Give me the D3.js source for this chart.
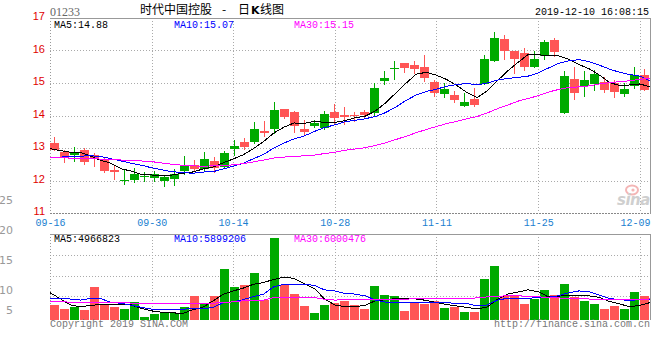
<!DOCTYPE html>
<html><head><meta charset="utf-8">
<script src="https://cdn.jsdelivr.net/npm/d3@7/dist/d3.min.js"></script>
<style>body{margin:0;background:#fff}svg{display:block}</style>
</head><body>
<svg id="c" width="660" height="360"></svg>
<script>
// ---------- DATA ----------
const dates = ["09-16","09-17","09-18","09-19","09-20","09-23","09-24","09-25","09-26","09-27",
  "09-30","10-02","10-03","10-04","10-08","10-09","10-10","10-11","10-14","10-15",
  "10-16","10-17","10-18","10-21","10-22","10-23","10-24","10-25","10-28","10-29",
  "10-30","10-31","11-01","11-04","11-05","11-06","11-07","11-08","11-11","11-12",
  "11-13","11-14","11-15","11-18","11-19","11-20","11-21","11-22","11-25","11-26",
  "11-27","11-28","11-29","12-02","12-03","12-04","12-05","12-06","12-09","12-10"];
const openP = [13.16,12.87,12.77,12.95,12.78,12.65,12.33,12.00,12.03,12.11,
  12.07,11.99,12.06,12.30,12.48,12.35,12.60,12.43,12.98,13.18,
  13.19,13.53,13.58,14.20,14.12,13.59,13.68,13.62,14.11,14.02,
  14.03,14.11,14.07,15.06,15.42,15.62,15.55,15.49,15.03,14.66,
  14.63,14.30,14.51,14.97,15.69,16.35,15.98,15.92,15.50,15.84,
  16.32,14.09,15.12,14.92,14.98,15.03,15.00,14.67,14.92,15.25];
const highP = [13.33,12.95,13.02,13.00,12.85,12.68,12.46,12.32,12.39,12.25,
  12.28,12.18,12.36,12.74,12.64,12.88,12.73,12.91,13.25,13.32,
  13.81,13.84,14.43,14.20,14.15,13.86,13.86,14.14,14.35,14.25,
  14.12,14.17,14.99,15.37,15.68,15.62,15.68,15.86,15.09,15.01,
  14.75,14.70,14.85,15.86,16.57,16.48,15.98,16.08,15.98,16.32,
  16.38,15.37,15.49,15.37,15.40,15.18,15.09,15.00,15.49,15.43];
const lowP = [12.95,12.56,12.61,12.51,12.46,12.25,12.06,11.90,11.95,11.97,
  11.97,11.84,11.85,12.21,12.28,12.33,12.27,12.40,12.78,12.96,
  13.14,13.37,13.47,13.91,13.50,13.43,13.64,13.60,13.76,13.74,
  13.84,13.94,14.02,14.97,15.11,15.34,15.30,15.06,14.60,14.58,
  14.41,14.30,14.29,14.97,15.69,15.73,15.32,15.40,15.50,15.73,
  15.83,14.09,14.52,14.61,14.79,14.73,14.58,14.61,14.86,14.79];
const closeP = [12.95,12.68,12.88,12.56,12.66,12.30,12.25,12.03,12.21,12.13,
  12.21,12.10,12.21,12.44,12.36,12.66,12.38,12.84,13.06,13.03,
  13.58,13.47,14.17,13.96,13.69,13.50,13.76,14.05,13.93,13.95,
  13.97,14.02,14.85,15.15,15.45,15.47,15.44,15.16,14.68,14.82,
  14.48,14.42,14.33,15.74,16.38,15.98,15.74,15.50,15.74,16.26,
  15.95,15.22,14.70,15.09,15.28,14.79,14.73,14.82,15.24,14.79];
// volume, millions of shares
const volume = [4.29,3.14,3.63,2.86,9.43,4.49,3.63,3.14,5.23,0.86,
  1.71,2.09,2.09,3.63,6.86,4.86,6.86,14.57,9.43,10.00,
  13.43,5.71,23.43,10.00,7.43,4.00,2.00,4.29,4.86,5.43,
  4.29,3.14,9.71,7.14,6.86,2.57,5.14,4.57,5.43,3.43,
  3.71,2.29,2.29,11.71,15.43,6.86,6.86,4.57,6.00,8.57,
  7.14,10.29,6.57,5.43,4.57,3.14,4.00,3.14,8.00,6.86];
const ma5 = [12.98,12.92,12.87,12.86,12.75,12.62,12.53,12.36,12.29,12.18,
  12.17,12.14,12.17,12.22,12.26,12.35,12.41,12.54,12.66,12.79,
  12.98,13.20,13.46,13.64,13.77,13.76,13.82,13.79,13.79,13.84,
  13.93,13.98,14.14,14.39,14.69,14.99,15.27,15.33,15.24,15.11,
  14.92,14.71,14.55,14.76,15.07,15.37,15.63,15.87,15.87,15.84,
  15.84,15.73,15.57,15.44,15.25,15.02,14.92,14.94,14.97,14.88];
const ma10 = [12.70,12.72,12.74,12.75,12.76,12.74,12.67,12.60,12.53,12.47,
  12.39,12.33,12.27,12.25,12.22,12.26,12.27,12.35,12.44,12.53,
  12.67,12.80,13.00,13.15,13.28,13.37,13.51,13.63,13.71,13.81,
  13.85,13.90,13.97,14.09,14.26,14.46,14.63,14.74,14.81,14.90,
  14.95,14.99,14.94,15.00,15.09,15.14,15.17,15.21,15.31,15.46,
  15.60,15.68,15.72,15.66,15.55,15.43,15.33,15.26,15.21,15.07];
const ma30 = [12.71,12.70,12.69,12.68,12.67,12.66,12.65,12.63,12.62,12.60,
  12.58,12.54,12.50,12.47,12.45,12.44,12.45,12.46,12.48,12.52,
  12.57,12.63,12.69,12.72,12.74,12.76,12.78,12.83,12.87,12.93,
  12.97,13.01,13.08,13.16,13.26,13.36,13.47,13.57,13.66,13.75,
  13.82,13.90,13.97,14.08,14.21,14.32,14.44,14.52,14.61,14.72,
  14.80,14.86,14.88,14.91,14.97,15.01,15.04,15.07,15.11,15.15];
const vma5 = [7.8,6.1,4.3,3.8,4.2,4.4,4.5,4.5,4.3,3.3,
  2.6,2.2,2.1,1.8,2.9,3.6,5.4,7.3,8.3,9.1,
  10.2,10.7,11.6,12.2,11.9,10.4,9.0,6.0,4.3,3.8,
  3.8,4.2,5.5,5.8,6.1,6.0,6.0,5.6,5.0,4.4,
  4.0,3.6,3.2,3.7,5.9,7.4,8.0,8.6,8.1,6.6,
  6.8,7.1,7.1,6.9,6.5,5.3,4.6,3.8,4.2,4.97];
const vma10 = [6.2,6.2,6.0,5.7,6.2,6.1,5.0,4.8,4.2,3.6,
  3.1,3.05,3.0,3.1,3.2,3.3,3.5,4.9,5.2,5.8,
  6.7,7.4,9.5,10.2,10.2,10.2,9.9,8.6,8.3,7.6,
  7.4,6.9,5.7,5.1,5.0,5.0,5.1,5.1,5.1,4.9,
  4.8,4.7,4.0,4.3,5.7,6.2,6.2,6.2,6.4,6.5,
  6.9,7.8,8.3,8.1,7.1,6.2,5.8,5.6,5.8,5.9];
const vma30 = [5.4,5.4,5.0,4.9,4.9,4.9,4.9,4.9,4.85,4.8,
  4.8,4.8,4.8,4.6,4.6,4.75,4.8,4.95,5.2,5.5,
  5.5,5.7,6.4,6.4,6.4,6.5,6.4,5.9,5.7,5.75,
  5.75,5.8,5.9,5.9,5.9,5.9,6.2,6.2,6.2,6.2,
  6.2,6.2,6.3,6.6,6.8,6.9,6.9,6.8,6.6,6.5,
  6.3,6.2,6.1,6.0,5.9,5.9,5.9,5.9,5.95,6.0];
const priceTicks = [11,12,13,14,15,16,17];
const dateTickIdx = [0,10,18,28,38,48,58];
const volTickLabels = [25,20,15,10,5];
const volLegend = ["MA5:4966823","MA10:5899206","MA30:6000476"];
const maNames = ["MA5","MA10","MA30"];
const maColors = ["#000000","#0000ff","#ff00ff"];

// ---------- LAYOUT ----------
const svg = d3.select("#c");
const X0 = 50, X1 = 650, PY0 = 18, PY1 = 213, VY0 = 234, VY1 = 320;
const N = dates.length;
const xBand = d3.scaleBand().domain(d3.range(N)).range([X0, X1 - 1]).paddingInner(0.1).paddingOuter(0);
const xPt = d3.scalePoint().domain(d3.range(N)).range([X0, X1]);
const yP = d3.scaleLinear().domain([11, 17]).range([PY1, PY0]);
const yV = d3.scaleLinear().domain([0, 24.57]).range([VY1, VY0]);
const RED = "#ff5555", GREEN = "#00aa00";
const mono = "'Liberation Mono', 'DejaVu Sans Mono', monospace";

// ---------- GRID ----------
const grid = svg.append("g").attr("shape-rendering", "crispEdges");
grid.selectAll("line.hp").data(priceTicks.filter(t => t > 11 && t < 17)).join("line")
  .attr("x1", X0).attr("x2", X1).attr("y1", d => Math.round(yP(d)) + 0.5).attr("y2", d => Math.round(yP(d)) + 0.5)
  .attr("stroke", "#aaa").attr("stroke-dasharray", "1,2");
const vIdx = dateTickIdx.filter(i => i > 0);
[[PY0, PY1], [VY0, VY1]].forEach(([a, b]) => {
  grid.append("g").selectAll("line").data(vIdx).join("line")
    .attr("x1", d => Math.round(xPt(d)) + 0.5).attr("x2", d => Math.round(xPt(d)) + 0.5)
    .attr("y1", a).attr("y2", b)
    .attr("stroke", "#aaa").attr("stroke-dasharray", "1,2");
});
grid.selectAll("line.hv").data([1, 2, 3]).join("line")
  .attr("x1", X0).attr("x2", X1)
  .attr("y1", d => Math.round(VY0 + d * 20.75) + 0.5).attr("y2", d => Math.round(VY0 + d * 20.75) + 0.5)
  .attr("stroke", "#aaa").attr("stroke-dasharray", "1,2");
grid.append("line").attr("x1", X0).attr("x2", X1).attr("y1", PY0 + 0.5).attr("y2", PY0 + 0.5).attr("stroke", "#999");
grid.append("line").attr("x1", X0).attr("x2", X1).attr("y1", PY1 + 0.5).attr("y2", PY1 + 0.5).attr("stroke", "#888").attr("stroke-dasharray", "2,1");
grid.append("line").attr("x1", X0 + 0.5).attr("x2", X0 + 0.5).attr("y1", PY0).attr("y2", PY1).attr("stroke", "#999").attr("stroke-dasharray", "1,2");
grid.append("line").attr("x1", X1 + 0.5).attr("x2", X1 + 0.5).attr("y1", PY0).attr("y2", PY1 + 1).attr("stroke", "#999");
grid.append("line").attr("x1", X0).attr("x2", X1).attr("y1", VY0 + 0.5).attr("y2", VY0 + 0.5).attr("stroke", "#999");
grid.append("line").attr("x1", X0 + 0.5).attr("x2", X0 + 0.5).attr("y1", VY0).attr("y2", VY1).attr("stroke", "#999").attr("stroke-dasharray", "1,2");
grid.append("line").attr("x1", X1 + 0.5).attr("x2", X1 + 0.5).attr("y1", VY0).attr("y2", VY1).attr("stroke", "#999");

// ---------- SINA watermark ----------
const wm = svg.append("g");
wm.append("ellipse").attr("cx", 632).attr("cy", 190).attr("rx", 6).attr("ry", 4.5)
  .attr("fill", "none").attr("stroke", "#f4b6b6").attr("stroke-width", 2);
wm.append("circle").attr("cx", 633).attr("cy", 190).attr("r", 1.6).attr("fill", "#f4b6b6");
wm.append("text").attr("x", 617).attr("y", 205).text("sina")
  .attr("font-family", "'DejaVu Sans', sans-serif").attr("font-style", "italic").attr("font-weight", "bold")
  .attr("font-size", 15).attr("fill", "#cfcfcf").attr("letter-spacing", -0.5);

// ---------- CANDLES ----------
const idx = d3.range(N);
const isUp = i => closeP[i] >= openP[i];
const cg = svg.append("g").attr("shape-rendering", "crispEdges");
cg.selectAll("line.wick").data(idx).join("line")
  .attr("x1", i => xBand(i) + 4.5).attr("x2", i => xBand(i) + 4.5)
  .attr("y1", i => Math.round(yP(highP[i]))).attr("y2", i => Math.round(yP(lowP[i])) + 1)
  .attr("stroke", i => isUp(i) ? GREEN : RED);
cg.selectAll("rect.body").data(idx).join("rect")
  .attr("x", i => xBand(i)).attr("width", xBand.bandwidth())
  .attr("y", i => Math.round(yP(Math.max(openP[i], closeP[i]))))
  .attr("height", i => Math.max(1, Math.round(yP(Math.min(openP[i], closeP[i]))) - Math.round(yP(Math.max(openP[i], closeP[i])))))
  .attr("fill", i => isUp(i) ? GREEN : RED);

// ---------- VOLUME BARS ----------
svg.append("g").attr("shape-rendering", "crispEdges").selectAll("rect").data(idx).join("rect")
  .attr("x", i => xBand(i)).attr("width", xBand.bandwidth())
  .attr("y", i => Math.round(yV(volume[i]))).attr("height", i => VY1 - Math.round(yV(volume[i])))
  .attr("fill", i => isUp(i) ? GREEN : RED);

// ---------- MA LINES ----------
const priceMA = [ma5, ma10, ma30], volMA = [vma5, vma10, vma30];
const lp = d3.line().x((d, i) => xPt(i)).y(d => yP(d));
const lv = d3.line().x((d, i) => xPt(i)).y(d => yV(d));
priceMA.forEach((arr, k) => svg.append("path").attr("d", lp(arr)).attr("fill", "none")
  .attr("stroke", maColors[k]).attr("stroke-width", 1).attr("shape-rendering", "crispEdges"));
volMA.forEach((arr, k) => svg.append("path").attr("d", lv(arr)).attr("fill", "none")
  .attr("stroke", maColors[k]).attr("stroke-width", 1).attr("shape-rendering", "crispEdges"));

// ---------- AXES ----------
const ay = svg.append("g").attr("transform", `translate(${X0 - 4},0)`)
  .call(d3.axisLeft(yP).tickValues(priceTicks).tickSize(0).tickPadding(1).tickFormat(d3.format("d")));
ay.select(".domain").remove();
ay.selectAll("text").attr("fill", "#e00000").attr("font-size", 11)
  .attr("font-family", "'Liberation Sans', Arial, sans-serif").attr("dy", "0.14em");

const ax = svg.append("g").attr("transform", `translate(0,${PY1})`)
  .call(d3.axisBottom(xPt).tickValues(dateTickIdx).tickSize(0).tickPadding(5).tickFormat(i => dates[i]));
ax.select(".domain").remove();
ax.selectAll("text").attr("fill", "#1a80d0").attr("font-size", 10).attr("font-family", mono)
  .attr("dy", "0.78em")
  .attr("dx", d => { const c = xPt(d), hw = 15; return c + hw > X1 ? (X1 - hw - c) : 0; });

// volume axis labels (as drawn in reference, offset from bars)
const yVL = d3.scaleLinear().domain([10, 25]).range([294, 204]);
svg.append("g").selectAll("text").data(volTickLabels).join("text")
  .attr("x", 13).attr("y", d => Math.min(yVL(d), 314)).attr("text-anchor", "end")
  .attr("font-size", 11).attr("font-family", "'DejaVu Sans', sans-serif").attr("fill", "#999")
  .text(d => d);

// ---------- LEGENDS ----------
const lastVals = priceMA.map(a => a[a.length - 1].toFixed(2));
svg.append("g").selectAll("text").data(maNames).join("text")
  .attr("x", (d, k) => 54 + k * 120).attr("y", 27.5)
  .attr("font-size", 10).attr("font-family", mono).attr("fill", (d, k) => maColors[k])
  .text((d, k) => d + ":" + lastVals[k]);
svg.append("g").selectAll("text").data(volLegend).join("text")
  .attr("x", (d, k) => 54 + k * 120).attr("y", 242)
  .attr("font-size", 10).attr("font-family", mono).attr("fill", (d, k) => maColors[k])
  .text(d => d);

// ---------- HEADER ----------
svg.append("text").attr("x", 50).attr("y", 16).text("01233")
  .attr("font-family", "'Liberation Serif', serif").attr("font-size", 12).attr("fill", "#666");
const cjk = "'Noto Sans CJK SC', sans-serif";
const t = svg.append("g").attr("font-family", cjk).attr("font-size", 12).attr("fill", "#000");
t.append("text").attr("x", 140).attr("y", 14).text("时代中国控股");
t.append("text").attr("x", 224).attr("y", 14).attr("text-anchor", "middle").text("-");
t.append("text").attr("x", 238).attr("y", 14).text("日");
t.append("text").attr("x", 251).attr("y", 14).attr("font-weight", "bold").attr("font-family", "'DejaVu Sans', sans-serif").attr("font-size", 11).text("K");
t.append("text").attr("x", 260).attr("y", 14).text("线图");
svg.append("text").attr("x", 649).attr("y", 15).attr("text-anchor", "end").text("2019-12-10 16:08:15")
  .attr("font-family", mono).attr("font-size", 10).attr("fill", "#000");

// ---------- FOOTER ----------
svg.append("text").attr("x", 50).attr("y", 327).text("Copyright 2019 SINA.COM")
  .attr("font-family", mono).attr("font-size", 10).attr("fill", "#777");
svg.append("text").attr("x", 650).attr("y", 327).attr("text-anchor", "end").text("http://finance.sina.com.cn")
  .attr("font-family", mono).attr("font-size", 10).attr("fill", "#777");
</script>
</body></html>
